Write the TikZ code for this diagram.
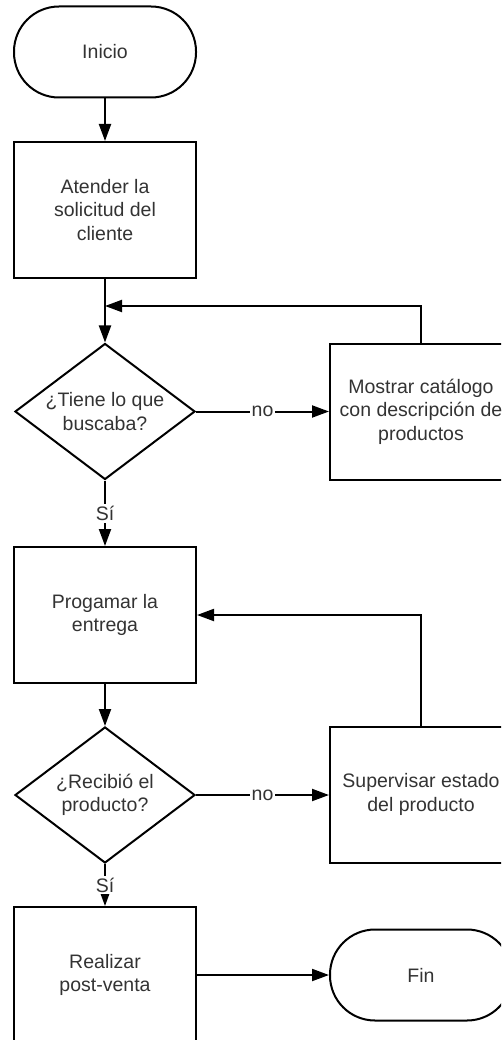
\documentclass[tikz,border=0pt]{standalone}
\usepackage{fontspec}
\setmainfont{Liberation Sans}
\usetikzlibrary{shapes.geometric,arrows.meta}
\definecolor{ink}{HTML}{333333}
\begin{document}
\begin{tikzpicture}[x=1pt,y=-1pt,
  txt/.style={text=ink, font=\fontsize{19.5}{23.5}\selectfont, align=center},
  flow/.style={draw=black, line width=2pt, txt, inner sep=0pt},
  procbox/.style={flow, rectangle, minimum width=182pt, minimum height=136pt},
  termbox/.style={flow, rectangle, rounded corners=45pt, minimum width=182pt, minimum height=91pt},
  decision/.style={flow, diamond, minimum width=180pt, minimum height=136pt},
  link/.style={line width=2pt, -{Triangle[length=17pt,width=12pt]}},
  edgelabel/.style={txt, fill=white, inner sep=2pt}]
  % canvas
  \useasboundingbox (0,0) rectangle (501,1040);
  \clip (0,0) rectangle (501,1040);

  % main column
  \node[termbox] (start) at (105,52) {Inicio};
  \node[procbox] (b1) at (105,210) {Atender la\\solicitud del\\cliente};
  \node[decision] (d1) at (105,411.5) {};
  \node[txt] (d1t) at (d1.center) {¿Tiene lo que\\buscaba?};
  \node[procbox] (b2) at (105,615) {Progamar la\\entrega};
  \node[decision] (d2) at (105,795) {};
  \node[txt] (d2t) at (d2.center) {¿Recibió el\\producto?};
  \node[procbox] (b3) at (105,975) {Realizar\\post-venta};

  % right column
  \node[procbox] (m1) at (421,411.5) {Mostrar catálogo\\con descripción de\\productos};
  \node[procbox] (s1) at (421,794.5) {Supervisar estado\\del producto};
  \node[termbox] (fin) at (421,975) {Fin};

  \coordinate (j1) at (105,306);

  % connectors
  \draw[link] (start) -- (b1);
  \draw[link] (b1) -- (d1);
  \draw[link] (m1.north) |- (j1);
  \draw[link] (d1.east) -- node[edgelabel] (n1) {no} (d1.east -| m1.west);
  \draw[link] (d1.south) -- node[edgelabel] (y1) {Sí} (b2.north);
  \draw[link] (s1.north) |- (b2.east);
  \draw[link] (b2) -- (d2);
  \draw[link] (d2.east) -- node[edgelabel] (n2) {no} (d2.east -| s1.west);
  \draw[link] (d2.south) -- node[edgelabel] (y2) {Sí} (b3.north);
  \draw[link] (b3.east) -- (fin.west);
\end{tikzpicture}
\end{document}
